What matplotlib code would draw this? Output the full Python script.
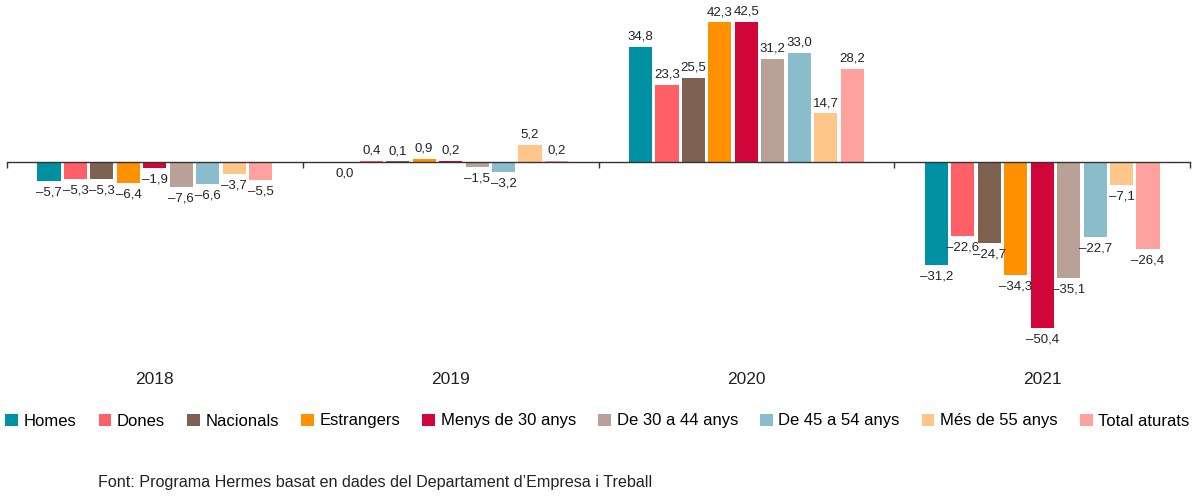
import matplotlib
matplotlib.use("Agg")
import matplotlib.pyplot as plt
from matplotlib.patches import Patch
import matplotlib.transforms as mtransforms

plt.rcParams['font.family'] = ['Liberation Sans', 'DejaVu Sans']

years = ["2018", "2019", "2020", "2021"]
series = ["Homes", "Dones", "Nacionals", "Estrangers", "Menys de 30 anys",
          "De 30 a 44 anys", "De 45 a 54 anys", "Més de 55 anys", "Total aturats"]
colors = ["#0090A3", "#FF6068", "#7F6152", "#FF9100", "#D0063A",
          "#B9A197", "#8ABDCC", "#FFC689", "#FFA19D"]

homes = [-5.7, 0.0, 34.8, -31.2]
dones = [-5.3, 0.4, 23.3, -22.6]
nacionals = [-5.3, 0.1, 25.5, -24.7]
estrangers = [-6.4, 0.9, 42.3, -34.3]
menys30 = [-1.9, 0.2, 42.5, -50.4]
de30a44 = [-7.6, -1.5, 31.2, -35.1]
de45a54 = [-6.6, -3.2, 33.0, -22.7]
mes55 = [-3.7, 5.2, 14.7, -7.1]
total = [-5.5, 0.2, 28.2, -26.4]
values = [homes, dones, nacionals, estrangers, menys30, de30a44, de45a54, mes55, total]

source = "Font: Programa Hermes basat en dades del Departament d\u2019Empresa i Treball"

def fmt(v):
    s = f"{abs(v):.1f}".replace(".", ",")
    return ("\u2013" + s) if v < 0 else s

fig = plt.figure(figsize=(11.99, 4.96), dpi=100)
ax = fig.add_axes([7/1199, 1 - 345/496, 1183/1199, 335/496])

slot = 0.0895
bw = 0.078
n = len(series)
for i, (name, vals, col) in enumerate(zip(series, values, colors)):
    xs = [g + 0.5 + (i - (n - 1) / 2) * slot for g in range(len(years))]
    ax.bar(xs, vals, width=bw, color=col, label=name, zorder=2)
    for x, v in zip(xs, vals):
        if v > 0:
            ax.annotate(fmt(v), (x, v), xytext=(0, 3), textcoords="offset points",
                        ha="center", va="bottom", fontsize=9.5, color="#222222")
        else:
            ax.annotate(fmt(v), (x, v), xytext=(0, -4), textcoords="offset points",
                        ha="center", va="top", fontsize=9.5, color="#222222")

ax.set_xlim(0, 4)
ax.set_ylim(-55.5, 46)
for s in ["top", "right", "left"]:
    ax.spines[s].set_visible(False)
ax.spines["bottom"].set_position(("data", 0))
ax.spines["bottom"].set_color("#333333")
ax.spines["bottom"].set_linewidth(1.0)
ax.spines["bottom"].set_zorder(3)
ax.set_yticks([])
ax.set_xticks(range(len(years) + 1))
ax.set_xticklabels([])
ax.tick_params(axis="x", direction="out", length=4, width=1, color="#333333")

trans = mtransforms.blended_transform_factory(ax.transData, fig.transFigure)
for g, y in enumerate(years):
    ax.text(g + 0.5, 1 - 380/496, y, transform=trans, ha="center", va="center",
            fontsize=12.5, color="#222222")

handles = [Patch(facecolor=c, edgecolor="none") for c in colors]
fig.legend(handles, series, loc="center left", bbox_to_anchor=(2/1199, 1 - 421/496),
           ncol=9, frameon=False, fontsize=12, handlelength=0.75, handleheight=0.75,
           handletextpad=0.35, columnspacing=1.33, borderaxespad=0, borderpad=0.2)

fig.text(98/1199, 1 - 482/496, source, ha="left", va="center", fontsize=11.6, color="#222222")

fig.savefig("out.png", dpi=100)
